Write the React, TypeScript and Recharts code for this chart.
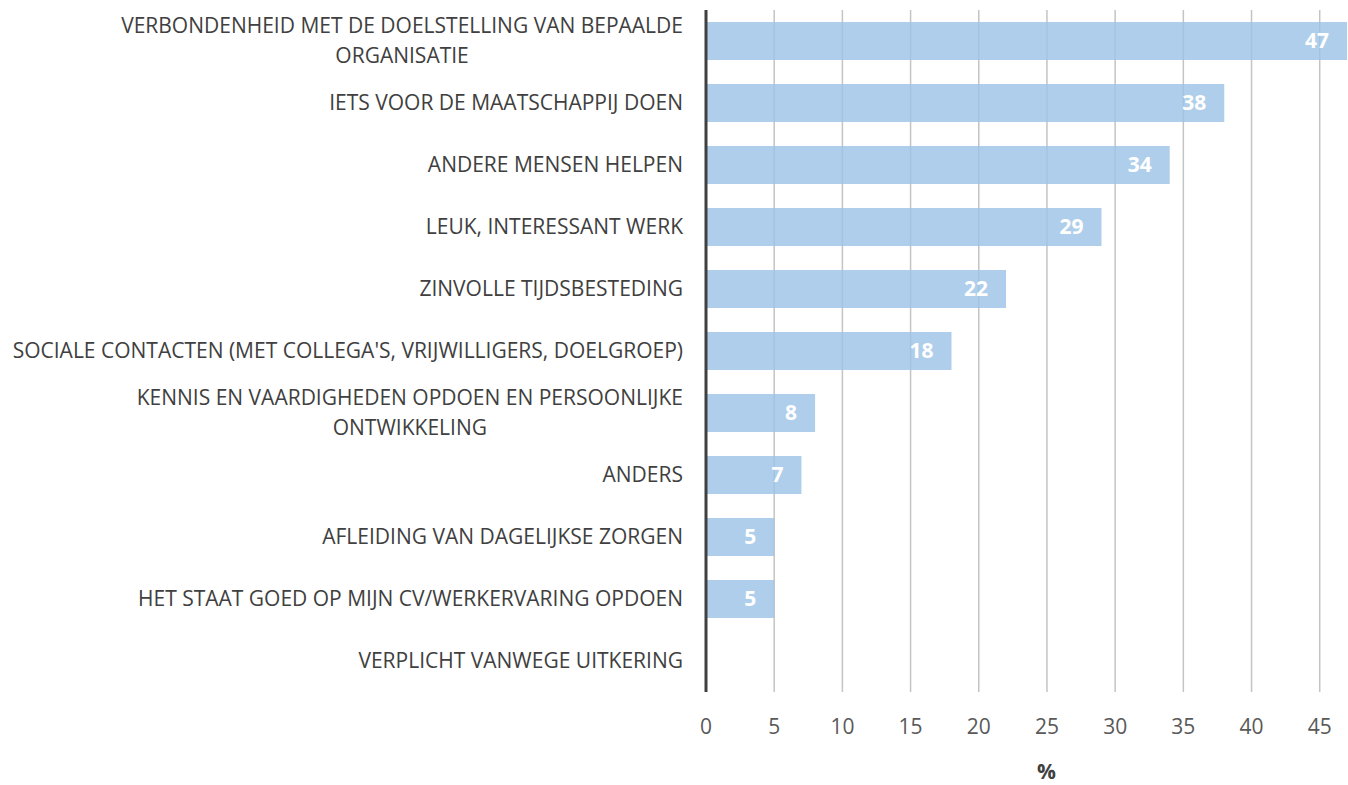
import React from "react";
import { Bar, BarChart, CartesianGrid, LabelList, XAxis, YAxis } from "recharts";

const categories = [
  "VERBONDENHEID MET DE DOELSTELLING VAN BEPAALDE\nORGANISATIE",
  "IETS VOOR DE MAATSCHAPPIJ DOEN",
  "ANDERE MENSEN HELPEN",
  "LEUK, INTERESSANT WERK",
  "ZINVOLLE TIJDSBESTEDING",
  "SOCIALE CONTACTEN (MET COLLEGA'S, VRIJWILLIGERS, DOELGROEP)",
  "KENNIS EN VAARDIGHEDEN OPDOEN EN PERSOONLIJKE\nONTWIKKELING",
  "ANDERS",
  "AFLEIDING VAN DAGELIJKSE ZORGEN",
  "HET STAAT GOED OP MIJN CV/WERKERVARING OPDOEN",
  "VERPLICHT VANWEGE UITKERING",
];
const percentages = [47, 38, 34, 29, 22, 18, 8, 7, 5, 5, 0];
const xTicks = [0, 5, 10, 15, 20, 25, 30, 35, 40, 45];
const xMax = 47;

const data = categories.map((name, i) => ({ name, value: percentages[i] }));

const FONT = "'Open Sans', 'Noto Sans', sans-serif";
const LABEL_SIZE = 21;

let ctx: CanvasRenderingContext2D | null = null;
function textWidth(s: string) {
  if (!ctx) {
    ctx = document.createElement("canvas").getContext("2d");
    if (ctx) ctx.font = `${LABEL_SIZE}px ${FONT}`;
  }
  return ctx ? ctx.measureText(s).width : s.length * 11.6;
}

// right-aligned block, lines centred on each other (like the Excel original)
function CategoryTick({ x, y, payload }: any) {
  const lines = String(payload.value).split("\n");
  const blockW = Math.max(...lines.map(textWidth));
  const cx = x - blockW / 2;
  return (
    <text
      x={lines.length > 1 ? cx : x}
      y={y}
      textAnchor={lines.length > 1 ? "middle" : "end"}
      fill="#404040"
      fontSize={LABEL_SIZE}
      fontFamily={FONT}
    >
      {lines.map((line, i) => (
        <tspan
          key={i}
          x={lines.length > 1 ? cx : x}
          dy={i === 0 ? -(lines.length - 1) * 15 + 7 : 30}
        >
          {line}
        </tspan>
      ))}
    </text>
  );
}

// grid only at the tick values, not at the domain edge
const gridX = ({ offset }: any) =>
  xTicks.map((t) => offset.left + (offset.width * t) / xMax);

export default function App() {
  return (
    <div style={{ width: 1348, height: 785, background: "#fff" }}>
      <style>{"body{margin:0}"}</style>
      <BarChart
        width={1348}
        height={785}
        data={data}
        layout="vertical"
        margin={{ top: 10, right: 1, bottom: 0, left: 0 }}
        barSize={38}
      >
        <CartesianGrid
          horizontal={false}
          stroke="#c4c4c4"
          strokeWidth={1.5}
          verticalCoordinatesGenerator={gridX}
        />
        <XAxis
          type="number"
          domain={[0, xMax]}
          ticks={xTicks}
          height={93}
          axisLine={false}
          tickLine={false}
          tickSize={0}
          tickMargin={27}
          tick={{ fill: "#595959", fontSize: 21, fontFamily: FONT }}
          label={{
            value: "%",
            position: "insideBottom",
            offset: 6,
            dx: 20,
            fill: "#404040",
            fontSize: 21,
            fontWeight: 700,
            fontFamily: FONT,
          }}
        />
        <YAxis
          type="category"
          dataKey="name"
          width={706}
          tickLine={false}
          tickSize={0}
          tickMargin={23}
          axisLine={{ stroke: "#404040", strokeWidth: 3 }}
          tick={<CategoryTick />}
          interval={0}
        />
        <Bar dataKey="value" fill="#9DC3E6" fillOpacity={0.82} isAnimationActive={false}>
          <LabelList
            dataKey="value"
            position="insideRight"
            offset={18}
            fill="#ffffff"
            fontSize={21}
            fontWeight={700}
            fontFamily={FONT}
            formatter={(v: any) => (v === 0 ? "" : v)}
          />
        </Bar>
      </BarChart>
    </div>
  );
}
